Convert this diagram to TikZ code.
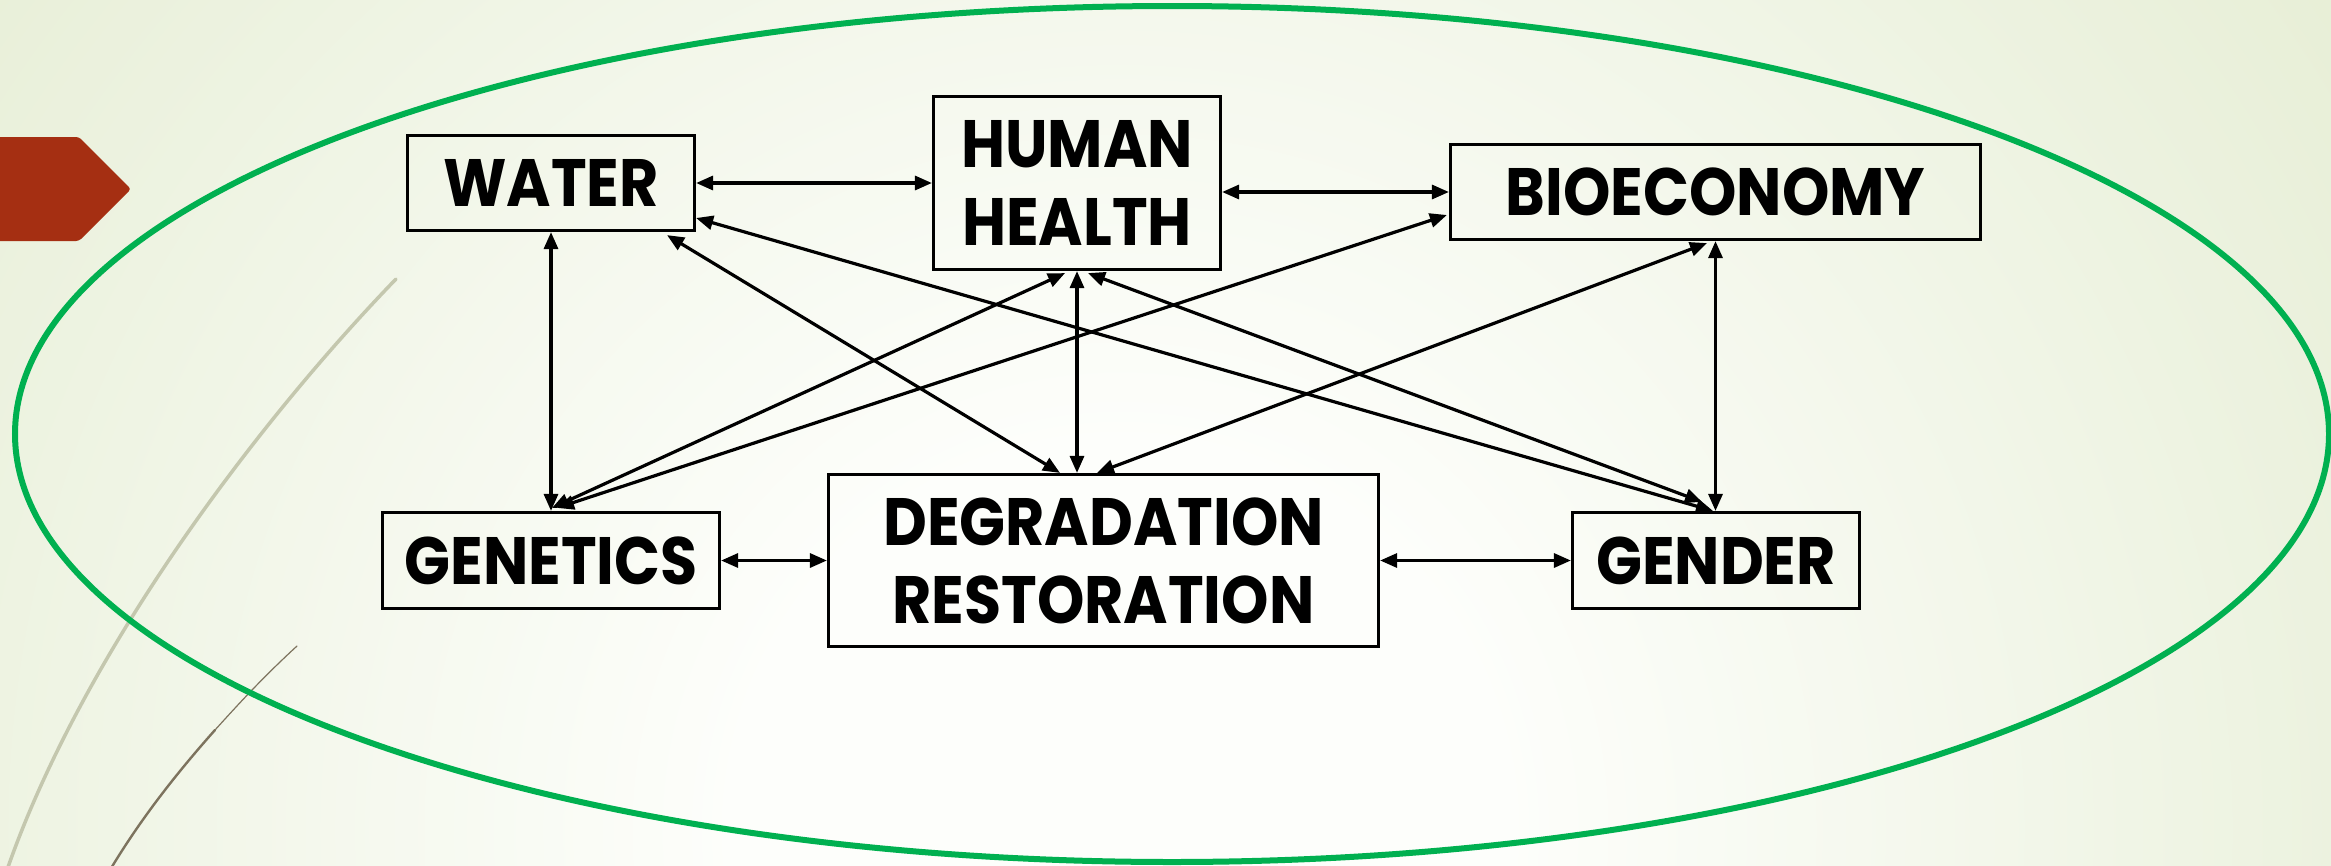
\documentclass[tikz,border=0pt]{standalone}
\usepackage{fontspec}
\setmainfont{Poppins}
\newfontfamily\boxfont{Poppins}[FakeStretch=0.9]
\usetikzlibrary{arrows.meta,calc}
\definecolor{grn}{HTML}{00B050}
\definecolor{rust}{HTML}{A52F12}
\definecolor{bgedge}{HTML}{DCE6C0}
\definecolor{bgmid}{HTML}{ECF2DF}
\definecolor{bgin}{HTML}{FDFEFB}
\definecolor{lgray}{HTML}{C4C7AE}
\definecolor{dbrown}{HTML}{7D735E}
\pgfdeclareradialshading{bgshade}{\pgfpoint{0bp}{0bp}}{color(0bp)=(bgin); color(6bp)=(bgin); color(19bp)=(bgmid); color(34bp)=(bgedge); color(50bp)=(bgedge)}
\begin{document}
\begin{tikzpicture}[x=1pt,y=-1pt,
  box/.style={draw=black, line width=3.2pt, inner sep=0pt, align=center,
    font=\boxfont\fontsize{67}{78}\selectfont\bfseries},
  link/.style={line width=3.2pt, {Triangle[length=17pt,width=14pt]}-{Triangle[length=17pt,width=14pt]}},
  ring/.style={draw=grn, line width=6pt},
  deco/.style={line cap=round}]
\useasboundingbox (0,0) rectangle (2331,865);
\begin{scope}
  \clip (0,0) rectangle (2331,865);
  \fill[bgedge] (0,0) rectangle (2331,865);
  \shade[shading=bgshade] (1120,830) circle (1600);
  \draw[deco, lgray, line width=3.5pt] (396,279) .. controls (250,430) and (80,660) .. (7,870);
  \draw[deco, dbrown, line width=1.2pt] (297,646) .. controls (260,680) and (235,708) .. (215,730);
  \draw[deco, dbrown, line width=2.4pt] (215,730) .. controls (175,775) and (140,820) .. (110,870);
  \fill[rust, rounded corners=3pt] (-10,137) -- (79,137) -- (131,189) -- (79,241) -- (-10,241) -- cycle;
\end{scope}
\draw[ring] (1172,434) ellipse [x radius=1157, y radius=428];

\node[box, minimum width=287pt, minimum height=95pt] (water) at (551,183) {WATER};
\node[box, minimum width=287pt, minimum height=173pt] (hh) at (1077,183) {HUMAN\\HEALTH};
\node[box, minimum width=530pt, minimum height=95pt] (bio) at (1715.5,192) {BIOECONOMY};
\node[box, minimum width=337pt, minimum height=96pt] (gen) at (551,560.5) {GENETICS};
\node[box, minimum width=550pt, minimum height=172pt] (deg) at (1103.5,560.5) {DEGRADATION\\RESTORATION};
\node[box, minimum width=287pt, minimum height=96pt] (gender) at (1716,560.5) {GENDER};

\draw[link] (water.east) -- (hh.west);
\draw[link] (hh.east |- bio.west) -- (bio.west);
\draw[link] (gen.east) -- (deg.west);
\draw[link] (deg.east) -- (gender.west);
\draw[link] (water.south) -- (gen.north);
\draw[link] (hh.south) -- (hh.south |- deg.north);
\draw[link] (bio.south) -- (bio.south |- gender.north);
\draw[link] ($(water.south)+(116,3)$) -- ($(deg.north)+(-43.5,0)$);
\draw[link] ($(water.east)+(0,35)$) -- ($(gender.north)+(-3,0)$);
\draw[link] ($(hh.south)+(11,2)$) -- ($(gender.north)+(-14,-9)$);
\draw[link] ($(hh.south)+(-12,2)$) -- ($(gen.north)+(1,-3)$);
\draw[link] ($(bio.west)+(-2,23)$) -- ($(gen.north)+(6,-3)$);
\draw[link] ($(bio.south)+(-8.5,2)$) -- ($(deg.north)+(-6.5,0)$);
\end{tikzpicture}
\end{document}
